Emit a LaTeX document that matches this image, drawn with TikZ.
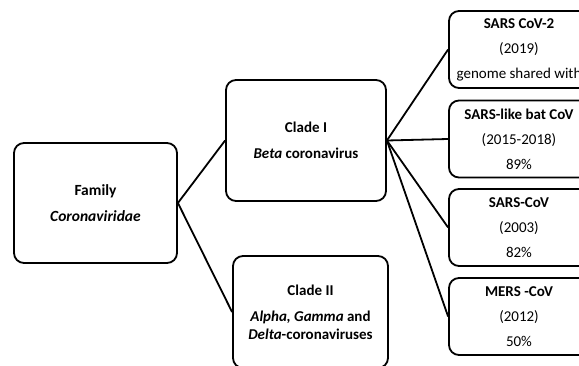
\documentclass[tikz,border=0pt]{standalone}
\usepackage{fontspec}
\setmainfont{Carlito}
\begin{document}
\begin{tikzpicture}[x=1pt,y=1pt,
	box/.style={draw, line width=1.8pt, rounded corners=10pt, align=center, inner sep=0pt, font=\fontsize{15}{18}\selectfont},
	virus/.style={box, minimum width=140pt, minimum height=77pt},
	link/.style={line width=1.8pt}]
	\useasboundingbox (0,0) rectangle (579,365);
	\clip (0,0) rectangle (579,365);

	\node[box, minimum width=163pt, minimum height=120pt, font=\fontsize{15.5}{18}\selectfont\bfseries] (family) at (95.5,162) {Family\\[8pt]\textit{Coronaviridae}};
	\node[box, minimum width=160pt, minimum height=121pt, font=\fontsize{15}{18}\selectfont\bfseries] (cladeI) at (306,224.5) {Clade I\\[8pt]\textit{Beta} coronavirus};
	\node[box, minimum width=155pt, minimum height=112pt, font=\fontsize{15}{18}\selectfont\bfseries] (cladeII) at (310.5,53) {Clade II\\[8pt]\textit{Alpha, Gamma} and\\\textit{Delta}-coronaviruses};

	\node[virus] (sars2) at (519,315.5) {\textbf{SARS CoV-2}\\[7pt](2019)\\[7pt]genome shared with};
	\node[virus] (batcov) at (519,226) {\textbf{SARS-like bat CoV}\\[7pt](2015-2018)\\[7pt]89\%};
	\node[virus] (sars) at (519,137.5) {\textbf{SARS-CoV}\\[7pt](2003)\\[7pt]82\%};
	\node[virus] (mers) at (519,48.5) {\textbf{MERS -CoV}\\[7pt](2012)\\[7pt]50\%};

	\draw[link] (family.east) -- (cladeI.west);
	\draw[link] (family.east) -- (cladeII.west);
	\draw[link] (cladeI.east) -- (sars2.west);
	\draw[link] (cladeI.east) -- (batcov.west);
	\draw[link] (cladeI.east) -- (sars.west);
	\draw[link] (cladeI.east) -- (mers.west);
\end{tikzpicture}
\end{document}
